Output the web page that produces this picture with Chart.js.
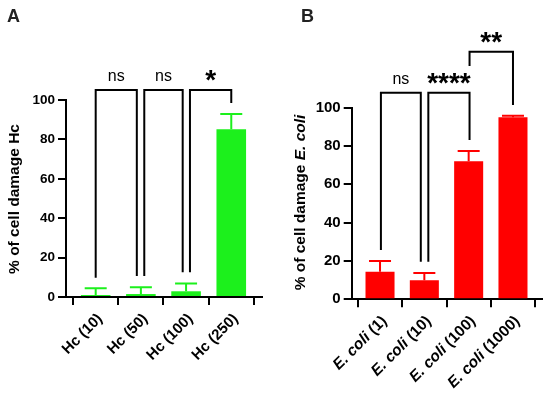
<!DOCTYPE html>
<html>
<head>
<meta charset="utf-8">
<script src="https://cdn.jsdelivr.net/npm/chart.js@4.4.0/dist/chart.umd.min.js"></script>
<style>
  html, body { margin: 0; padding: 0; background: #fff; }
  #wrap { position: relative; width: 550px; height: 398px; }
  .panel { position: absolute; top: 0; width: 275px; height: 398px; }
  #panelA { left: 0; }
  #panelB { left: 275px; }
</style>
</head>
<body>
<div id="wrap">
  <div class="panel" id="panelA"><canvas id="chartA" width="275" height="398"></canvas></div>
  <div class="panel" id="panelB"><canvas id="chartB" width="275" height="398"></canvas></div>
</div>
<script>
// panel A - Hc
const hcLabels = ["Hc (10)", "Hc (50)", "Hc (100)", "Hc (250)"];
const hcMeans = [1.0, 1.5, 2.9, 85.1];
const hcSD = [3.4, 3.4, 3.9, 7.8];
// brackets: x from/to in category units, top + leg ends in % units
const hcBrackets = [
  { from: 1.0, to: 1.91, top: 105.1, left: 9.8, right: 10.7, label: "ns" },
  { from: 2.075, to: 2.925, top: 105.1, left: 10.7, right: 12.6, label: "ns" },
  { from: 3.086, to: 4.0, top: 105.1, left: 12.6, right: 98.5, label: "*" },
];

// panel B - E. coli
const ecoliLabels = ["E. coli (1)", "E. coli (10)", "E. coli (100)", "E. coli (1000)"];
const ecoliMeans = [14.4, 9.9, 72.0, 95.0];
const ecoliSD = [5.6, 3.8, 5.4, 0.8];
const ecoliBrackets = [
  { from: 1.02, to: 1.92, top: 107.8, left: 25.7, right: 19.6, label: "ns" },
  { from: 2.09, to: 3.02, top: 107.8, left: 19.6, right: 83.1, label: "****" },
  { from: 3.02, to: 4.0, top: 129.2, left: 121.8, right: 101.4, label: "**" },
];

const yTicks = [0, 20, 40, 60, 80, 100];

const FONT = "'Liberation Sans', Arial, Helvetica, sans-serif";

function splitItalic(label) {
  if (label.startsWith("E. coli")) return [["E. coli", true], [label.slice(7), false]];
  return [[label, false]];
}

function drawParts(ctx, parts, size) {
  let total = 0;
  const widths = parts.map(([t, it]) => {
    ctx.font = `${it ? "italic " : ""}bold ${size}px ${FONT}`;
    const w = ctx.measureText(t).width;
    total += w;
    return w;
  });
  return { total, widths };
}

function panelPlugin(p) {
  return {
    id: "panel" + p.letter,
    afterDatasetsDraw(chart) {
      const { ctx, scales: { x, y } } = chart;
      ctx.save();
      ctx.strokeStyle = p.color;
      ctx.lineWidth = 2;
      p.means.forEach((m, i) => {
        const px = x.getPixelForValue(i + 1);
        const y0 = y.getPixelForValue(m);
        const y1 = y.getPixelForValue(m + p.sd[i]);
        ctx.beginPath();
        ctx.moveTo(px, y0);
        ctx.lineTo(px, y1);
        ctx.moveTo(px - 11, y1);
        ctx.lineTo(px + 11, y1);
        ctx.stroke();
      });
      ctx.restore();
    },
    afterDraw(chart) {
      const { ctx, scales: { x, y } } = chart;
      ctx.save();

      // significance brackets
      ctx.strokeStyle = "#000";
      ctx.fillStyle = "#000";
      ctx.lineWidth = 2;
      ctx.lineJoin = "miter";
      p.brackets.forEach((b) => {
        const x1 = x.getPixelForValue(b.from);
        const x2 = x.getPixelForValue(b.to);
        const yt = y.getPixelForValue(b.top);
        ctx.beginPath();
        ctx.moveTo(x1, y.getPixelForValue(b.left));
        ctx.lineTo(x1, yt);
        ctx.lineTo(x2, yt);
        ctx.lineTo(x2, y.getPixelForValue(b.right));
        ctx.stroke();

        ctx.font = b.label === "ns" ? `16px ${FONT}` : `bold 28px ${FONT}`;
        ctx.textAlign = "center";
        ctx.textBaseline = "alphabetic";
        const m = ctx.measureText(b.label);
        ctx.fillText(b.label, (x1 + x2) / 2, yt - 8.5 - m.actualBoundingBoxDescent);
      });

      // rotated category labels
      const tb = chart.chartArea.bottom + 8;
      p.labels.forEach((lab, i) => {
        const px = x.getPixelForValue(i + 1);
        const parts = splitItalic(lab);
        const { total, widths } = drawParts(ctx, parts, p.xFont);
        ctx.save();
        ctx.translate(px + 4.5, tb + 11.5);
        ctx.rotate(-Math.PI / 4);
        ctx.textAlign = "left";
        ctx.textBaseline = "middle";
        let cx = -total;
        parts.forEach(([t, it], k) => {
          ctx.font = `${it ? "italic " : ""}bold ${p.xFont}px ${FONT}`;
          ctx.fillText(t, cx, 0);
          cx += widths[k];
        });
        ctx.restore();
      });

      // y axis title
      const tparts = p.title;
      const tm = drawParts(ctx, tparts, 15.5);
      ctx.save();
      ctx.translate(p.titleX, p.titleY);
      ctx.rotate(-Math.PI / 2);
      ctx.textAlign = "left";
      ctx.textBaseline = "middle";
      let tx = -tm.total / 2;
      tparts.forEach(([t, it], k) => {
        ctx.font = `${it ? "italic " : ""}bold 15.5px ${FONT}`;
        ctx.fillText(t, tx, 0);
        tx += tm.widths[k];
      });
      ctx.restore();

      // panel letter
      ctx.fillStyle = "#222";
      ctx.font = `bold 18px ${FONT}`;
      ctx.textAlign = "left";
      ctx.textBaseline = "alphabetic";
      ctx.fillText(p.letter, p.letterX, 22);

      ctx.restore();
    },
  };
}

function makeChart(id, p) {
  const axisLine = { display: true, color: "#000", width: 2 };
  const tickGrid = { display: true, drawOnChartArea: false, drawTicks: true, tickLength: 8, color: "#000", lineWidth: 2 };
  return new Chart(document.getElementById(id), {
    type: "bar",
    data: {
      datasets: [{
        data: p.means.map((v, i) => ({ x: i + 1, y: v })),
        backgroundColor: p.color,
        borderWidth: 0,
        barPercentage: 0.655,
        categoryPercentage: 1,
      }],
    },
    options: {
      responsive: false,
      animation: false,
      events: [],
      layout: { padding: { top: p.top, right: p.right, left: 0, bottom: 0 } },
      plugins: { legend: { display: false }, tooltip: { enabled: false } },
      scales: {
        x: {
          type: "linear",
          min: p.xMin,
          max: p.xMax,
          offset: false,
          afterBuildTicks: (s) => { s.ticks = [1, 2, 3, 4].map((v) => ({ value: v })); },
          afterFit: (s) => { s.height = p.xHeight; },
          ticks: { display: false },
          grid: tickGrid,
          border: axisLine,
        },
        y: {
          min: 0,
          max: 100,
          afterBuildTicks: (s) => { s.ticks = yTicks.map((v) => ({ value: v })); },
          afterFit: (s) => { s.width = p.yWidth; },
          ticks: { color: "#000", padding: 3, font: { family: FONT, weight: "bold", size: p.yFont } },
          grid: tickGrid,
          border: axisLine,
        },
      },
    },
    plugins: [panelPlugin(p)],
  });
}

makeChart("chartA", {
  letter: "A", letterX: 7,
  labels: hcLabels, means: hcMeans, sd: hcSD, brackets: hcBrackets,
  color: "#1cf01c",
  title: [["% of cell damage Hc", false]],
  titleX: 15, titleY: 199,
  top: 100, right: 13, yWidth: 66, xHeight: 101,
  xMin: 0.343, xMax: 4.68,
  yFont: 13.5, xFont: 15,
});

makeChart("chartB", {
  letter: "B", letterX: 26,
  labels: ecoliLabels, means: ecoliMeans, sd: ecoliSD, brackets: ecoliBrackets,
  color: "#ff0000",
  title: [["% of cell damage ", false], ["E. coli", true]],
  titleX: 26, titleY: 202.5,
  top: 107.7, right: 8.3, yWidth: 76.7, xHeight: 98.7,
  xMin: 0.361, xMax: 4.648,
  yFont: 15, xFont: 15.5,
});
</script>
</body>
</html>
